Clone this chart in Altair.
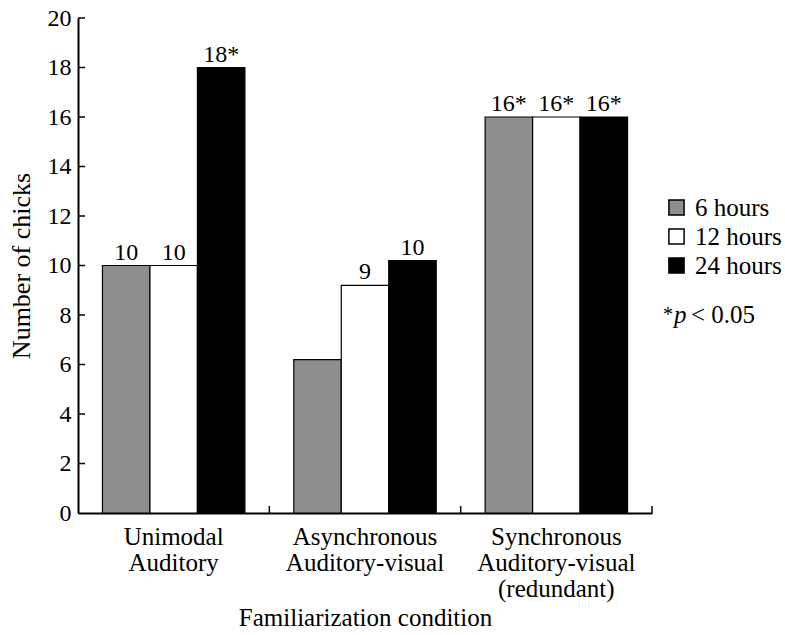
import altair as alt
import pandas as pd

categories = ["Unimodal Auditory", "Asynchronous Auditory-visual", "Synchronous Auditory-visual (redundant)"]
series = ["6 hours", "12 hours", "24 hours"]
values = [
    [10, 10, 18],
    [6.2, 9.2, 10.2],
    [16, 16, 16],
]
labels = [
    ["10", "10", "18*"],
    ["", "9", "10"],
    ["16*", "16*", "16*"],
]
colors = ["#8e8e8e", "#ffffff", "#000000"]
y_ticks = [2, 4, 6, 8, 10, 12, 14, 16, 18, 20]

rows = []
for i, c in enumerate(categories):
    for j, s in enumerate(series):
        rows.append({"cond": c, "series": s, "n": values[i][j], "lab": labels[i][j]})
df = pd.DataFrame(rows)

FONT = "Times New Roman, Liberation Serif, serif"
W, H = 574, 495

x_enc = alt.X("cond:N", sort=categories,
              scale=alt.Scale(paddingInner=0, paddingOuter=0),
              axis=alt.Axis(title="Familiarization condition", labelAngle=0,
                            labelExpr="split(datum.label, ' ')",
                            labelFont=FONT, labelFontSize=25, labelColor="black",
                            labelLineHeight=26, labelPadding=11, labelBaseline="top",
                            ticks=False, domainColor="black", domainWidth=2,
                            titleFont=FONT, titleFontSize=25, titleFontWeight="normal",
                            titleColor="black", titlePadding=4))
xo_enc = alt.XOffset("series:N", sort=series,
                     scale=alt.Scale(paddingInner=0, paddingOuter=0.515))
y_enc = alt.Y("n:Q", scale=alt.Scale(domain=[0, 20], nice=False),
              axis=alt.Axis(title="Number of chicks", values=[0] + y_ticks, ticks=False,
                            labelFont=FONT, labelFontSize=24, labelColor="black",
                            labelPadding=7, domainColor="black", domainWidth=2,
                            grid=False, titleFont=FONT, titleFontSize=26,
                            titleFontWeight="normal", titleColor="black", titlePadding=13))

bars = alt.Chart(df).mark_bar(stroke="black", strokeWidth=1.2).encode(
    x=x_enc, xOffset=xo_enc, y=y_enc,
    fill=alt.Fill("series:N", sort=series,
                  scale=alt.Scale(domain=series, range=colors),
                  legend=alt.Legend(title=None, orient="none", legendX=586, legendY=177,
                                    symbolType="square", symbolSize=230,
                                    symbolStrokeColor="black", symbolStrokeWidth=1.5,
                                    labelFont=FONT, labelFontSize=25, labelColor="black",
                                    labelOffset=6, rowPadding=3)),
)

texts = alt.Chart(df).mark_text(font=FONT, fontSize=24, color="black", dy=-6,
                                baseline="alphabetic").encode(
    x=alt.X("cond:N", sort=categories), xOffset=alt.XOffset("series:N", sort=series),
    y="n:Q", text="lab:N")

ytick_df = pd.DataFrame({"t": y_ticks})
yticks = alt.Chart(ytick_df).mark_rule(color="black", strokeWidth=1.5).encode(
    y=alt.Y("t:Q"), x=alt.value(0), x2=alt.value(7))

xtick_df = pd.DataFrame({"cond": categories})
xticks = alt.Chart(xtick_df).mark_rule(color="black", strokeWidth=1.5).encode(
    x=alt.X("cond:N", sort=categories, bandPosition=1),
    y=alt.value(H), y2=alt.value(H - 7))

star = alt.Chart(pd.DataFrame({"t": ["*"]})).mark_text(
    font=FONT, fontSize=20, color="black", align="left", baseline="alphabetic").encode(
    x=alt.value(585), y=alt.value(303), text="t:N")
pit = alt.Chart(pd.DataFrame({"t": ["p"]})).mark_text(
    font=FONT, fontSize=25, fontStyle="italic", color="black", align="left",
    baseline="alphabetic").encode(x=alt.value(596), y=alt.value(305), text="t:N")
pval = alt.Chart(pd.DataFrame({"t": ["< 0.05"]})).mark_text(
    font=FONT, fontSize=25, color="black", align="left", baseline="alphabetic").encode(
    x=alt.value(613), y=alt.value(305), text="t:N")

chart = alt.layer(bars, texts, yticks, xticks, star, pit, pval).properties(
    width=W, height=H,
    autosize=alt.AutoSizeParams(type="none"),
    padding={"left": 78, "top": 18, "right": 133, "bottom": 122},
    background="white",
).configure_view(stroke=None)

chart.save("out.html", embed_options={"renderer": "svg", "actions": False})
